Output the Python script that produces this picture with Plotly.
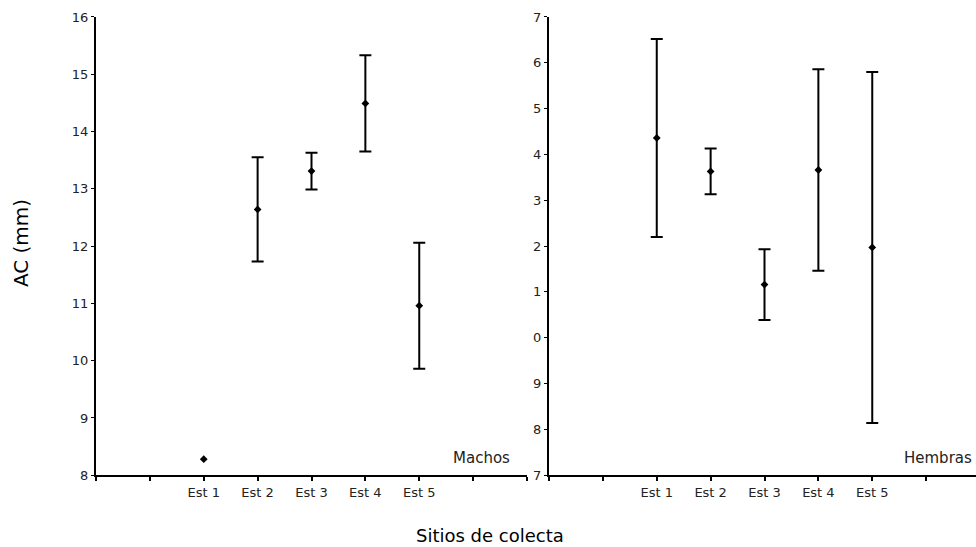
import plotly.graph_objects as go

# Sampling stations and positions on the category axis (0..8 grid)
stations = ["Est 1", "Est 2", "Est 3", "Est 4", "Est 5"]
station_pos = [2, 3, 4, 5, 6]

# Males: mean AC (mm) and error half-width (None = no bar)
machos_mean = [8.28, 12.64, 13.31, 14.49, 10.96]
machos_err = [None, 0.91, 0.32, 0.84, 1.10]

# Females: mean AC (mm) and error half-width
hembras_mean = [14.36, 13.63, 11.16, 13.66, 11.97]
hembras_err = [2.16, 0.50, 0.77, 2.20, 3.83]

# Y tick values for each panel
machos_yticks = [8, 9, 10, 11, 12, 13, 14, 15, 16]
hembras_yticks = [7, 8, 9, 10, 11, 12, 13, 14, 15, 16, 17]

W, H = 976, 547
# usable paper area (plotly keeps a small band at top and bottom)
PAD_T, PAPER_H = 6, 534
FONT = "DejaVu Sans, Arial, sans-serif"
TXT = "#222222"


def px_x(p):
    return p / W


def px_y(p):
    return 1 - (p - PAD_T) / PAPER_H


fig = go.Figure()

for mean, err, xa, ya in [
    (machos_mean, machos_err, "x", "y"),
    (hembras_mean, hembras_err, "x2", "y2"),
]:
    # means as small diamonds
    fig.add_trace(go.Scatter(
        x=station_pos, y=mean, mode="markers",
        marker=dict(symbol="diamond", size=6, color="black"),
        xaxis=xa, yaxis=ya, showlegend=False, cliponaxis=False,
        hoverinfo="x+y",
    ))
    # error bars only where a value exists
    idx = [i for i, e in enumerate(err) if e is not None]
    fig.add_trace(go.Scatter(
        x=[station_pos[i] for i in idx], y=[mean[i] for i in idx],
        mode="markers", marker=dict(size=1, color="rgba(0,0,0,0)"),
        error_y=dict(type="data", array=[err[i] for i in idx], visible=True,
                     color="black", thickness=2, width=6),
        xaxis=xa, yaxis=ya, showlegend=False, cliponaxis=False,
        hoverinfo="skip",
    ))

grid_ticks = list(range(0, 9))
grid_text = ["" if v not in station_pos else stations[station_pos.index(v)]
             for v in grid_ticks]

ydom = [px_y(476), px_y(16)]

common_x = dict(
    showline=True, linecolor="black", linewidth=2, mirror=False,
    ticks="outside", ticklen=4, tickwidth=2, tickcolor="black",
    showgrid=False, zeroline=False, tickvals=grid_ticks, ticktext=grid_text,
    tickfont=dict(family=FONT, size=13, color=TXT), fixedrange=True,
)
common_y = dict(
    showline=True, linecolor="black", linewidth=2,
    ticks="outside", ticklen=3, tickwidth=1, tickcolor="black",
    showgrid=False, zeroline=False,
    tickfont=dict(family=FONT, size=13, color=TXT), fixedrange=True,
)

left_dom = [px_x(96), px_x(527)]
right_dom = [px_x(549), 1.0]
right_span = (W - 549) / ((527 - 96) / 8)

fig.update_layout(
    width=W, height=H,
    margin=dict(l=0, r=0, t=0, b=0),
    paper_bgcolor="white", plot_bgcolor="white",
    xaxis=dict(domain=left_dom, range=[0, 8], anchor="y", **common_x),
    yaxis=dict(domain=ydom, range=[8, 16], anchor="x",
               tickvals=machos_yticks,
               ticktext=[str(v) for v in machos_yticks], **common_y),
    xaxis2=dict(domain=right_dom, range=[0, right_span], anchor="y2", **common_x),
    yaxis2=dict(domain=ydom, range=[7, 17], anchor="x2",
                tickvals=hembras_yticks,
                ticktext=[str(v % 10) for v in hembras_yticks], **common_y),
    annotations=[
        dict(text="Machos", xref="paper", yref="paper",
             x=px_x(512), y=px_y(459), xanchor="right", yanchor="middle",
             showarrow=False, font=dict(family=FONT, size=15, color=TXT)),
        dict(text="Hembras", xref="paper", yref="paper",
             x=px_x(974), y=px_y(459), xanchor="right", yanchor="middle",
             showarrow=False, font=dict(family=FONT, size=15, color=TXT)),
        dict(text="AC (mm)", xref="paper", yref="paper",
             x=px_x(21), y=px_y(243), xanchor="center", yanchor="middle",
             textangle=-90, showarrow=False,
             font=dict(family=FONT, size=20, color="black")),
        dict(text="Sitios de colecta", xref="paper", yref="paper",
             x=px_x(490), y=px_y(536), xanchor="center", yanchor="middle",
             showarrow=False, font=dict(family=FONT, size=18, color="black")),
    ],
)

fig.write_html("out.html")
